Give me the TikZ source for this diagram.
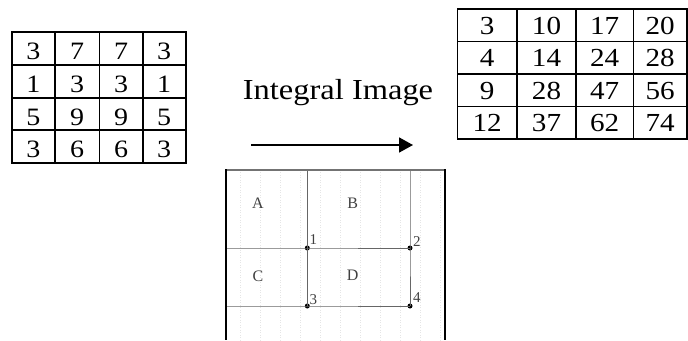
\documentclass[tikz,border=0pt]{standalone}
\usepackage{fontspec}
\setmainfont{Liberation Serif}[FakeStretch=1.12]
\newfontfamily\figfont{Liberation Serif}
\usetikzlibrary{arrows.meta}
\tikzset{
  cell/.style={anchor=base,inner sep=0pt,font=\fontsize{25}{30}\selectfont},
  sumcell/.style={anchor=base,inner sep=0pt,font=\fontsize{26}{31}\selectfont},
  tabline/.style={line width=1.6pt},
  part/.style={black!60,line width=0.9pt},
  region/.style={inner sep=0pt,text=black!75,font=\figfont\fontsize{16}{18}\selectfont},
  corner/.style={anchor=base west,inner sep=0pt,text=black!75,font=\figfont\fontsize{15}{17}\selectfont},
  dot/.style={circle,fill=black,inner sep=0pt,minimum size=5pt}
}
\begin{document}
\begin{tikzpicture}[x=1pt,y=-1pt]
      \useasboundingbox (0,0) rectangle (688,340);
      \draw[tabline] (11.7,31.7) rectangle (185.7,162.7)
        (55,31.7) -- (55,162.7) (99.3,31.7) -- (99.3,162.7) (142.7,31.7) -- (142.7,162.7)
        (11.7,65) -- (185.7,65) (11.7,97.7) -- (185.7,97.7) (11.7,130) -- (185.7,130);
      \draw
        (33.4,59.2) node[cell] (a11){3}
        (77.2,59.2) node[cell] (a12){7}
        (121,59.2) node[cell] (a13){7}
        (164.2,59.2) node[cell] (a14){3}
        (33.4,92.5) node[cell] (a21){1}
        (77.2,92.5) node[cell] (a22){3}
        (121,92.5) node[cell] (a23){3}
        (164.2,92.5) node[cell] (a24){1}
        (33.4,125.2) node[cell] (a31){5}
        (77.2,125.2) node[cell] (a32){9}
        (121,125.2) node[cell] (a33){9}
        (164.2,125.2) node[cell] (a34){5}
        (33.4,157.5) node[cell] (a41){3}
        (77.2,157.5) node[cell] (a42){6}
        (121,157.5) node[cell] (a43){6}
        (164.2,157.5) node[cell] (a44){3};
      \draw[tabline] (457.5,9) rectangle (687,139)
        (517,9) -- (517,139) (576,9) -- (576,139) (633.5,9) -- (633.5,139)
        (457.5,41.5) -- (687,41.5) (457.5,74) -- (687,74) (457.5,106.5) -- (687,106.5);
      \draw
        (487.2,34) node[sumcell] (s11){3}
        (546.5,34) node[sumcell] (s12){10}
        (604.7,34) node[sumcell] (s13){17}
        (660.2,34) node[sumcell] (s14){20}
        (487.2,66.5) node[sumcell] (s21){4}
        (546.5,66.5) node[sumcell] (s22){14}
        (604.7,66.5) node[sumcell] (s23){24}
        (660.2,66.5) node[sumcell] (s24){28}
        (487.2,99) node[sumcell] (s31){9}
        (546.5,99) node[sumcell] (s32){28}
        (604.7,99) node[sumcell] (s33){47}
        (660.2,99) node[sumcell] (s34){56}
        (487.2,131.5) node[sumcell] (s41){12}
        (546.5,131.5) node[sumcell] (s42){37}
        (604.7,131.5) node[sumcell] (s43){62}
        (660.2,131.5) node[sumcell] (s44){74};
      \node[anchor=base,inner sep=0pt,font=\fontsize{29}{34}\selectfont] (title) at (338,99.3) {Integral Image};
      \coordinate (from) at (251,145);
      \coordinate (to) at (413,145);
      \draw[-{Triangle[length=14pt,width=15pt]},line width=1.8pt] (from) -- (to);
      \begin{scope}
        \clip (226,170) rectangle (445,340);
        \draw[black!10,dotted,line width=0.5pt,step=20] (226,170) grid (445,340);
      \end{scope}
      \coordinate (t1) at (307.3,170);
      \coordinate (t2) at (410,170);
      \coordinate (l1) at (226,248);
      \coordinate (l3) at (226,306);
      \node[dot] (1) at (307.3,248) {};
      \node[dot] (2) at (410,248) {};
      \node[dot] (3) at (307.3,306) {};
      \node[dot] (4) at (410,306) {};
      \begin{scope}[part]
        \draw (t1) -- (1.center) -- (3.center);
        \draw (t2) -- (2.center) -- (4.center);
        \draw (l1) -- (1.center) -- (2.center);
        \draw (l3) -- (3.center) -- (4.center);
      \end{scope}
      \draw[black!55,line width=1.4pt] (226,170) -- (445,170);
      \draw[line width=2.2pt] (226,169.3) -- (226,340) (445,169.3) -- (445,340);
      \node[region] (A) at (258,203.5) {A};
      \node[region] (B) at (352.7,203.5) {B};
      \node[region] (C) at (258,276) {C};
      \node[region] (D) at (352.7,275) {D};
      \node[corner] (n1) at (309.5,244) {1};
      \node[corner] (n2) at (413,246) {2};
      \node[corner] (n3) at (309.5,304) {3};
      \node[corner] (n4) at (413,302) {4};
    \end{tikzpicture}
\end{document}
